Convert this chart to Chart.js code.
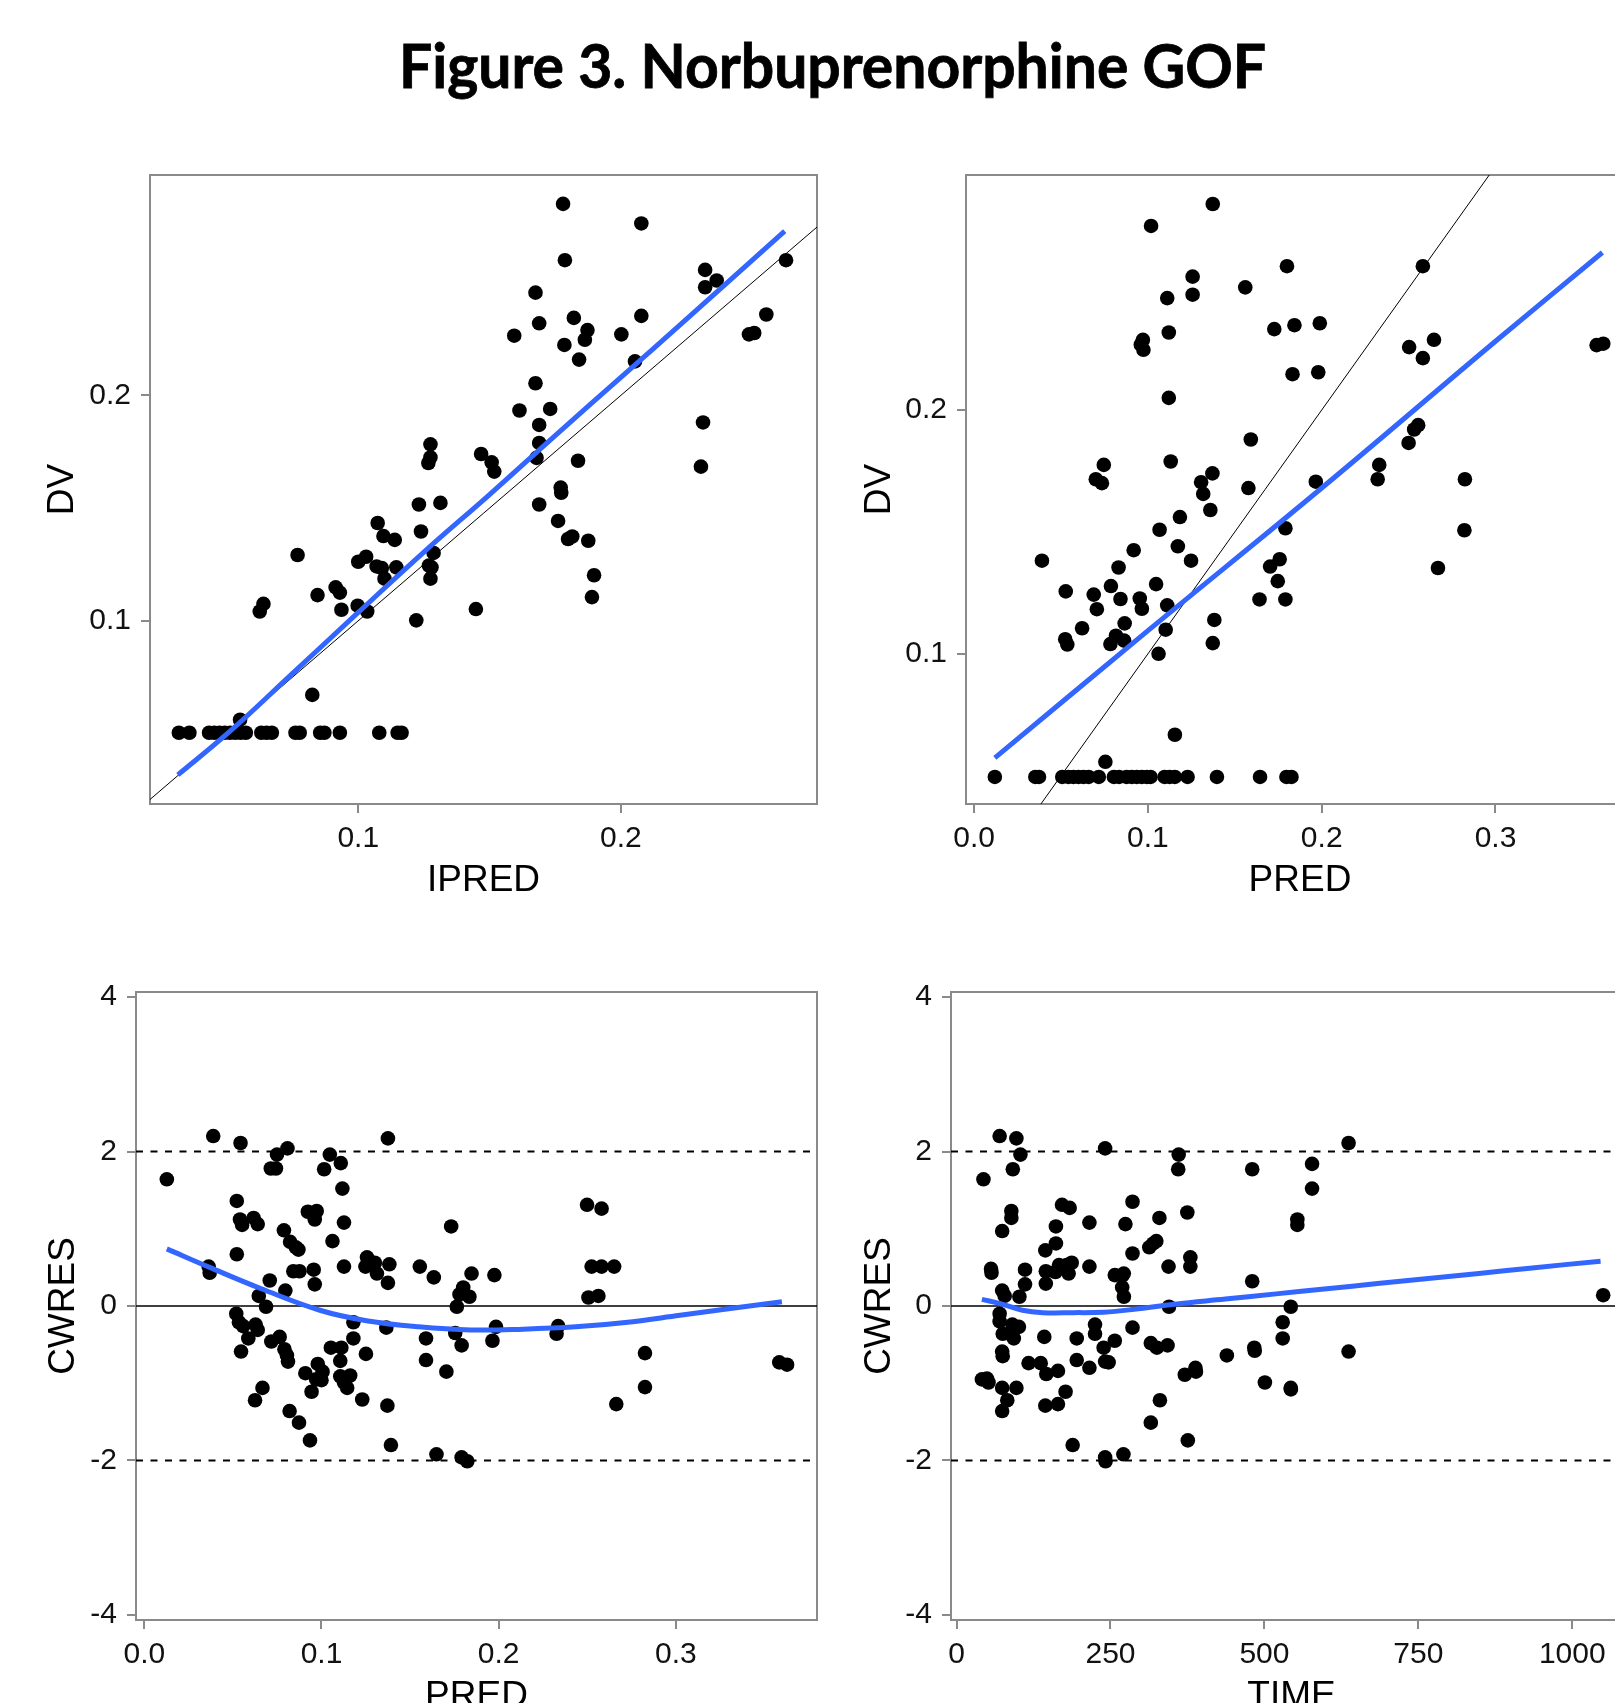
<!DOCTYPE html>
<html>
<head>
<meta charset="utf-8">
<title>Figure 3. Norbuprenorphine GOF</title>
<script src="https://cdn.jsdelivr.net/npm/chart.js@4.4.1/dist/chart.umd.min.js"></script>
<style>
  html, body { margin: 0; padding: 0; background: #fff; }
  body { width: 1615px; height: 1703px; overflow: hidden; position: relative; }
  #figTitle { position: absolute; left: 399px; top: 34px; font: 700 61px Lato, sans-serif; line-height: 1; white-space: nowrap;
    transform-origin: 0 0; color: #000; -webkit-text-stroke: 0.8px #000; }
  canvas { position: absolute; }
</style>
</head>
<body>
<div id="figTitle">Figure 3. Norbuprenorphine GOF</div>
<canvas id="p1"></canvas>
<canvas id="p2"></canvas>
<canvas id="p3"></canvas>
<canvas id="p4"></canvas>
<script>
/* ---------- Data: DV vs IPRED ---------- */
const P1_IPRED = [0.178,0.2078,0.1787,0.2321,0.2321,0.2365,0.2629,0.1675,0.1689,0.1821,0.1873,0.1863,0.1594,0.1785,0.1841,0.2002,0.2078,0.2054,0.2554,0.2488,0.2508,
  0.1675,0.1614,0.1731,0.1689,0.1689,0.1679,0.2313,0.2305,0.1837,0.1468,0.1508,0.1518,0.1275,0.1275,0.1267,0.1771,0.1773,0.1689,0.1231,0.1313,0.1239,
  0.1761,0.1799,0.1815,0.1876,0.1898,0.189,0.1448,0.1074,0.1096,0.1139,0.0769,0.100,0.103,0.107,0.109,0.110,0.1145,0.1269,0.1279,0.1275,0.1287,0.1221,
  0.0845,0.0914,0.093,0.0936,0.0998,0.1034,0.0625,0.0639,0.0825,0.055,
  0.0317,0.0357,0.0432,0.0452,0.0472,0.0492,0.0512,0.0532,0.0552,0.0572,0.0631,0.0651,0.0671,0.0761,0.0777,0.0855,0.0871,0.093,0.108,0.115,0.1165];
const P1_DV = [0.285,0.2763,0.260,0.2557,0.248,0.251,0.260,0.2456,0.232,0.2344,0.229,0.2247,0.2265,0.2224,0.2159,0.2271,0.2353,0.2151,0.2359,0.2271,0.2277,
  0.2054,0.1933,0.194,0.1869,0.1789,0.1723,0.188,0.1684,0.171,0.174,0.1703,0.1662,0.1783,0.1725,0.170,0.1591,0.1568,0.1516,0.1516,0.1523,0.1396,
  0.1443,0.1363,0.1374,0.1355,0.1202,0.1105,0.1052,0.1434,0.1376,0.1359,0.1292,0.1262,0.1284,0.1241,0.1234,0.1187,0.1237,0.1245,0.1237,0.1187,0.1301,0.1002,
  0.1114,0.1148,0.1125,0.1049,0.1067,0.1041,0.1041,0.1075,0.0671,0.0561,
  0.0503,0.0503,0.0503,0.0503,0.0503,0.0503,0.0503,0.0503,0.0503,0.0503,0.0503,0.0503,0.0503,0.0503,0.0503,0.0503,0.0503,0.0503,0.0503,0.0503,0.0503];
const P1_SMOOTH_X = [0.0313,0.0512,0.0751,0.1,0.125,0.15,0.175,0.2,0.225,0.2624];
const P1_SMOOTH_Y = [0.0316,0.051,0.0768,0.1037,0.1305,0.156,0.1822,0.208,0.2338,0.2729];
const P1_IDENTITY = [0.0207, 0.2747];
const P1_XTICKS = [0.1, 0.2];
const P1_YTICKS = [0.1, 0.2];

/* ---------- Data: DV vs PRED ---------- */
const P2_PRED = [0.1373,0.1018,0.180,0.2582,0.1257,0.156,0.1257,0.1111,0.112,0.1727,0.1843,0.1989,0.0971,0.0959,0.0974,0.2503,0.2646,0.2582,0.3582,0.362,
  0.1832,0.198,0.112,0.1592,0.250,0.2532,0.2555,0.2331,0.2322,0.2824,0.2821,0.2669,0.1966,0.1578,0.1131,0.0746,0.070,0.0735,0.1306,0.1318,0.1371,0.1359,
  0.1184,0.1067,0.1172,0.1248,0.0918,0.1791,0.1703,0.1758,0.1747,0.1642,0.1791,0.039,0.0831,0.0787,0.0842,0.1047,0.0953,0.0965,0.1111,0.0688,0.0706,
  0.0527,0.0866,0.0621,0.1382,0.1102,0.1373,0.0524,0.0536,0.0784,0.0816,0.0863,0.1061,0.1155,0.0755,
  0.0119,0.0352,0.0373,0.0507,0.0542,0.0571,0.060,0.0629,0.0659,0.0717,0.0804,0.0834,0.0877,0.0907,0.0936,0.0965,0.0994,0.1015,0.1096,0.1125,0.1155,0.1228,0.1397,0.1645,0.1797,0.1826];
const P2_DV = [0.2845,0.2755,0.259,0.259,0.2547,0.2503,0.2473,0.2459,0.2318,0.2332,0.2348,0.2356,0.2288,0.2268,0.2247,0.2258,0.2288,0.2213,0.2266,0.2272,
  0.2147,0.2155,0.205,0.1879,0.1865,0.192,0.1938,0.1775,0.1716,0.1716,0.1507,0.1352,0.1706,0.168,0.1789,0.1775,0.1716,0.170,0.1704,0.1656,0.174,0.159,
  0.1561,0.1509,0.1441,0.1382,0.1425,0.1515,0.1358,0.1388,0.1298,0.1223,0.1223,0.1382,0.1354,0.1278,0.1225,0.1286,0.1227,0.1185,0.1199,0.1243,0.1183,
  0.1256,0.1125,0.1105,0.1139,0.1099,0.1044,0.106,0.1038,0.104,0.1074,0.1054,0.100,0.0668,0.0557,
  0.0495,0.0495,0.0495,0.0495,0.0495,0.0495,0.0495,0.0495,0.0495,0.0495,0.0495,0.0495,0.0495,0.0495,0.0495,0.0495,0.0495,0.0495,0.0495,0.0495,0.0495,0.0495,0.0495,0.0495,0.0495,0.0495];
const P2_SMOOTH_X = [0.0119,0.1,0.2,0.3,0.3615];
const P2_SMOOTH_Y = [0.0573,0.1095,0.168,0.2282,0.2646];
const P2_IDENTITY = [0.0384, 0.2964];
const PRED_TICKS = [0.0, 0.1, 0.2, 0.3];
const P2_YTICKS = [0.1, 0.2];

/* ---------- Data: CWRES vs PRED ---------- */
const P3_PRED = [0.0127,0.0389,0.0543,0.0363,0.0369,0.0522,0.054,0.0552,0.0522,0.0617,0.064,0.0519,0.0534,0.0558,0.0587,0.0546,0.0628,0.064,0.0646,0.0687,
  0.0708,0.0625,0.0667,0.0714,0.0743,0.0749,0.0808,0.0788,0.0796,0.0717,0.0764,0.0791,0.0805,0.0811,0.0823,0.0855,0.087,0.0841,0.0876,0.082,0.0873,0.0935,
  0.0923,0.0973,0.0962,0.0956,0.0962,0.0909,0.0944,0.097,0.0979,0.1006,0.100,0.1015,0.1047,0.1062,0.1053,0.1109,0.1118,0.1127,0.1127,0.1112,0.1106,0.1106,
  0.1127,0.1145,0.1162,0.118,0.118,0.1251,0.123,0.1257,0.1248,0.1301,0.1313,0.1375,0.1383,0.1375,0.1366,0.1372,0.1392,0.1555,0.1634,0.159,0.159,0.1705,
  0.1732,0.1649,0.1755,0.1764,0.1779,0.180,0.1835,0.1847,0.1791,0.1791,0.1823,0.1976,0.1985,0.1965,0.2336,0.2327,0.2499,0.2581,0.2525,0.2581,0.2652,
  0.2507,0.2563,0.2664,0.2826,0.2826,0.3584,0.3628];
const P3_CWRES = [1.64,2.20,2.11,0.51,0.43,1.36,1.12,1.05,0.67,1.14,1.06,-0.10,-0.21,-0.26,-0.42,-0.59,-0.24,-0.31,0.13,-0.01,
  0.33,-1.22,-1.06,1.78,1.78,1.96,2.04,0.98,0.20,-0.46,-0.40,-0.56,-0.64,-0.72,0.83,0.76,0.73,0.45,0.45,-1.36,-1.51,-1.74,
  1.22,1.23,1.12,0.47,0.28,-0.87,-1.11,-0.95,-0.75,-0.85,-0.96,1.77,1.96,0.84,-0.54,1.85,1.52,1.08,0.51,-0.54,-0.71,-0.91,
  -0.99,-1.06,-0.90,-0.21,-0.42,-0.62,-1.21,0.63,0.51,0.56,0.42,2.17,0.54,0.30,-0.28,-1.29,-1.80,0.51,0.37,-0.42,-0.70,-0.85,
  1.03,-1.92,-0.35,-0.01,0.15,0.24,0.12,0.42,-0.51,-1.96,-2.01,0.40,-0.27,-0.45,-0.26,-0.36,1.31,1.26,0.51,0.51,0.51,
  0.11,0.13,-1.27,-0.61,-1.05,-0.73,-0.76];
const P3_SMOOTH_X = [0.0127,0.0369,0.0664,0.0991,0.1254,0.1549,0.1844,0.2139,0.2434,0.2729,0.3024,0.3319,0.3599];
const P3_SMOOTH_Y = [0.74,0.50,0.22,-0.055,-0.19,-0.27,-0.31,-0.30,-0.27,-0.21,-0.12,-0.03,0.055];

/* ---------- Data: CWRES vs TIME ---------- */
const P4_TIME = [43.7,41.2,49.4,51.9,56,56.8,70,97.2,103.8,91.4,89,89,74.1,74.1,78.2,102.1,111.2,111.2,70,70,75,74.1,75,90.6,101.3,93,86.5,
  74.1,97.2,82.4,74.1,117,136.7,145.8,164.7,142.5,144.2,164.7,177.1,144.2,145,145,161.4,161.4,160.6,166.4,178.7,187,182,171.3,183.7,
  188.6,195.2,195.2,215.8,215.8,215.8,224.9,224.9,238.9,241.3,247,241.3,242,241.3,257,257,269,271.6,269,271.8,274.3,271,285.8,285.8,285.8,
  313,319.6,324.5,329.5,315.5,325.4,342.7,330.3,315.5,344.3,345.1,360.8,360,374.8,379.7,379.7,370.7,388,388.8,375.6,439,480.2,480.2,
  483.5,484.3,500.8,529.7,529.7,542.8,542.8,543,553.5,553.5,577.4,577.4,636.7,636.7,1050.2];
const P4_CWRES = [1.64,-0.95,-0.94,-0.99,0.48,0.43,2.20,2.17,1.96,1.77,1.23,1.14,0.97,0.20,0.13,0.12,0.47,0.28,-0.10,-0.20,-0.36,-0.59,-0.65,-0.24,-0.27,-0.42,-0.36,
  -1.06,-1.06,-1.22,-1.36,-0.74,-0.74,-0.88,-0.84,-0.40,-1.29,-1.27,-1.11,0.72,0.45,0.29,1.03,0.81,0.44,0.53,0.53,0.56,0.42,1.31,1.27,
  -1.80,-0.42,-0.70,1.08,0.51,-0.80,-0.24,-0.36,-0.54,-0.72,-0.73,-1.96,-2.01,2.04,0.40,-0.45,0.39,0.42,0.24,0.12,1.06,-1.92,1.35,0.68,-0.28,
  0.76,0.81,0.84,1.14,-0.48,-0.54,-0.51,-1.22,-1.51,0.51,-0.01,1.96,1.77,1.21,0.63,0.51,-0.89,-0.80,-0.85,-1.74,-0.64,0.32,1.77,
  -0.54,-0.58,-0.99,-0.21,-0.42,-0.01,-1.06,-1.08,1.12,1.05,1.84,1.52,2.11,-0.59,0.14];
const P4_SMOOTH_X = [41.2,74.1,107,140,189.5,238.9,288.3,354.2,436.6,518.9,601.3,683.7,766,848.4,930.8,1046];
const P4_SMOOTH_Y = [0.086,0.024,-0.055,-0.086,-0.086,-0.08,-0.043,0.024,0.09,0.157,0.223,0.29,0.356,0.42,0.49,0.58];
const TIME_TICKS = [0, 250, 500, 750, 1000];
const CWRES_TICKS = [-4, -2, 0, 2, 4];
const CWRES_REF = [0, 2, -2];

/* ---------- Styling ---------- */
const FONT = '"Liberation Sans", Arial, sans-serif';
const BLUE = '#3366FF';
const BOX = '#8a8a8a';
const PAD_T = 30, PAD_R = 20, X_AXIS_H = 110;

const pts = (xs, ys) => xs.map((x, i) => ({x, y: ys[i]}));
const f1 = v => Number(v).toFixed(1);
const f0 = v => String(v);

const boxPlugin = {
  id: 'box',
  beforeDatasetsDraw(chart){
    const {ctx, chartArea: a} = chart;
    ctx.save(); ctx.strokeStyle = BOX; ctx.lineWidth = 2;
    ctx.strokeRect(a.left, a.top, a.right - a.left, a.bottom - a.top);
    ctx.restore();
  }
};

function axis(o, horizontal){
  return {
    type: 'linear', min: o.min, max: o.max,
    afterBuildTicks: s => { s.ticks = o.ticks.map(v => ({value: v})); },
    afterFit: s => { if (horizontal) s.height = X_AXIS_H; else s.width = o.size; },
    grid: {drawOnChartArea: false, drawTicks: true, tickLength: 9, color: BOX, lineWidth: 2},
    border: {display: false},
    ticks: {autoSkip: false, maxRotation: 0, minRotation: 0, padding: horizontal ? 8 : 10, color: '#111',
      font: {family: FONT, size: 30}, callback: v => o.fmt(v)},
    title: {display: true, text: o.title, color: '#000', font: {family: FONT, size: 37, lineHeight: 1},
      padding: horizontal ? {top: 0, bottom: 15} : {top: o.titlePad, bottom: 0}}
  };
}

function makePanel(o){
  const cv = document.getElementById(o.id);
  cv.width = o.y.size + o.boxW + PAD_R; cv.height = PAD_T + o.boxH + X_AXIS_H;
  cv.style.width = cv.width + 'px'; cv.style.height = cv.height + 'px';
  cv.style.left = o.left + 'px'; cv.style.top = (o.boxTop - PAD_T) + 'px';
  const datasets = [
    {data: pts(o.smoothX, o.smoothY), showLine: true, borderColor: BLUE, borderWidth: 5, pointRadius: 0, tension: 0.4, order: 0},
    ...o.refs.map(r => ({data: pts(r.x, r.y), showLine: true, borderColor: '#000', borderWidth: r.w, borderDash: r.dash || [], pointRadius: 0, order: 1})),
    {data: pts(o.xs, o.ys), showLine: false, pointRadius: 7.3, pointBackgroundColor: '#000', pointBorderWidth: 0, order: 2}
  ];
  new Chart(cv, {
    type: 'scatter',
    data: {datasets},
    options: {
      responsive: false, animation: false, devicePixelRatio: 1, events: [],
      layout: {padding: {top: PAD_T, right: PAD_R, left: 0, bottom: 0}},
      plugins: {legend: {display: false}, tooltip: {enabled: false}},
      scales: {x: axis(o.x, true), y: axis(o.y, false)}
    },
    plugins: [boxPlugin]
  });
}

/* ---------- Panels ---------- */
const PX = {min: -0.0047, max: 0.3797, ticks: PRED_TICKS, fmt: f1, title: 'PRED'};
const CW = {min: -4.065, max: 4.065, ticks: CWRES_TICKS, fmt: f0, title: 'CWRES'};
const cwRefs = (lo, hi) => CWRES_REF.map(v => ({x: [lo, hi], y: [v, v], w: v === 0 ? 1.6 : 1.8, dash: v === 0 ? [] : [7, 7.5]}));

makePanel({id: 'p1', left: 0, boxTop: 175, boxW: 667, boxH: 629,
  xs: P1_IPRED, ys: P1_DV, smoothX: P1_SMOOTH_X, smoothY: P1_SMOOTH_Y,
  refs: [{x: P1_IDENTITY, y: P1_IDENTITY, w: 1}],
  x: {min: 0.0207, max: 0.2747, ticks: P1_XTICKS, fmt: f1, title: 'IPRED'},
  y: {min: 0.0187, max: 0.2978, ticks: P1_YTICKS, fmt: f1, title: 'DV', size: 150, titlePad: 44}});

makePanel({id: 'p2', left: 816, boxTop: 175, boxW: 668, boxH: 629,
  xs: P2_PRED, ys: P2_DV, smoothX: P2_SMOOTH_X, smoothY: P2_SMOOTH_Y,
  refs: [{x: P2_IDENTITY, y: P2_IDENTITY, w: 1}],
  x: PX,
  y: {min: 0.0384, max: 0.2964, ticks: P2_YTICKS, fmt: f1, title: 'DV', size: 150, titlePad: 45.5}});

makePanel({id: 'p3', left: 0, boxTop: 992, boxW: 681, boxH: 628,
  xs: P3_PRED, ys: P3_CWRES, smoothX: P3_SMOOTH_X, smoothY: P3_SMOOTH_Y,
  refs: cwRefs(PX.min, PX.max),
  x: PX,
  y: Object.assign({}, CW, {size: 136, titlePad: 45})});

makePanel({id: 'p4', left: 801, boxTop: 992, boxW: 681, boxH: 628,
  xs: P4_TIME, ys: P4_CWRES, smoothX: P4_SMOOTH_X, smoothY: P4_SMOOTH_Y,
  refs: cwRefs(-9, 1097),
  x: {min: -9, max: 1097, ticks: TIME_TICKS, fmt: f0, title: 'TIME'},
  y: Object.assign({}, CW, {size: 150, titlePad: 60.5})});

/* ---------- Title width (Calibri-like, narrower than Lato) ---------- */
const t = document.getElementById('figTitle');
t.style.transform = 'scaleX(' + (867 / t.offsetWidth) + ')';
</script>
</body>
</html>
